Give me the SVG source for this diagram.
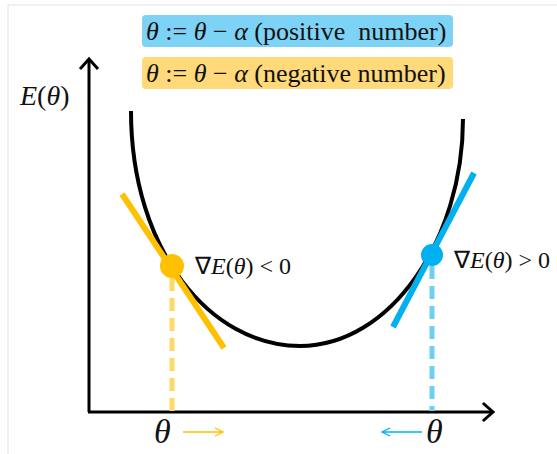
<svg xmlns="http://www.w3.org/2000/svg" width="557" height="454" viewBox="0 0 557 454">
<style>
.m{font-family:"Liberation Serif","Times New Roman",serif;fill:#111}
.i{font-style:italic}
.ax{stroke:#000;stroke-width:3;fill:none}
.head{stroke:#000;stroke-width:3;fill:none;stroke-linecap:square;stroke-linejoin:miter}
</style>
<defs>
<marker id="ay" markerWidth="10" markerHeight="10" refX="9" refY="5" orient="auto" markerUnits="userSpaceOnUse">
<path d="M1,1 L9,5 L1,9" fill="none" stroke="#FFC000" stroke-width="1.3"/>
</marker>
<marker id="ab" markerWidth="10" markerHeight="10" refX="9" refY="5" orient="auto" markerUnits="userSpaceOnUse">
<path d="M1,1 L9,5 L1,9" fill="none" stroke="#00B0F0" stroke-width="1.3"/>
</marker>
</defs>
<rect width="557" height="454" fill="#fff"/>
<path d="M8,454 V5 H557" fill="none" stroke="#e3e3e3" stroke-width="1"/>

<g id="legend-positive">
<rect x="142" y="15" width="311" height="32" rx="4" fill="#7DD3F5"/>
<text class="m" x="146" y="40" font-size="26" xml:space="preserve"><tspan class="i">θ</tspan> := <tspan class="i">θ</tspan> − <tspan class="i">α</tspan> (positive  number)</text>
</g>
<g id="legend-negative">
<rect x="142" y="57" width="311" height="32" rx="4" fill="#FFD97A"/>
<text class="m" x="146" y="82" font-size="26"><tspan class="i">θ</tspan> := <tspan class="i">θ</tspan> − <tspan class="i">α</tspan> (negative number)</text>
</g>

<g id="axes">
<path class="ax" d="M89,412 V60"/>
<path class="head" d="M81,68 L89,59 L97,68"/>
<path class="ax" d="M88,412 H492"/>
<path class="head" d="M484,404 L493,412 L484,420"/>
<text class="m" x="20" y="105" font-size="28"><tspan class="i">E</tspan>(<tspan class="i">θ</tspan>)</text>
</g>

<g id="curve">
<path d="M131,111 C131,250 210,346 300,346 C390,346 463,240 463,119" fill="none" stroke="#000" stroke-width="4"/>
</g>

<g id="connectors">
<line x1="172" y1="278" x2="172" y2="411" stroke="#FFD966" stroke-width="5" stroke-dasharray="13,7"/>
<line x1="432" y1="266" x2="432" y2="411" stroke="#6FCFF3" stroke-width="5" stroke-dasharray="13,7"/>
<line x1="122" y1="194" x2="224" y2="348" stroke="#FFC000" stroke-width="6"/>
<line x1="393" y1="327" x2="474" y2="173" stroke="#00B0F0" stroke-width="6"/>
<line x1="183" y1="432" x2="223" y2="432" stroke="#FFC000" stroke-width="1.3" marker-end="url(#ay)"/>
<line x1="422" y1="432" x2="382" y2="432" stroke="#00B0F0" stroke-width="1.3" marker-end="url(#ab)"/>
</g>

<g id="point-left">
<circle cx="172" cy="266" r="12" fill="#FFC000"/>
<text class="m" x="195" y="274" font-size="24">∇<tspan class="i">E</tspan>(<tspan class="i">θ</tspan>) &lt; 0</text>
<text class="m i" x="154" y="443" font-size="34">θ</text>
</g>
<g id="point-right">
<circle cx="432" cy="255" r="11" fill="#00B0F0"/>
<text class="m" x="454" y="268" font-size="24">∇<tspan class="i">E</tspan>(<tspan class="i">θ</tspan>) &gt; 0</text>
<text class="m i" x="426" y="443" font-size="34">θ</text>
</g>
</svg>
